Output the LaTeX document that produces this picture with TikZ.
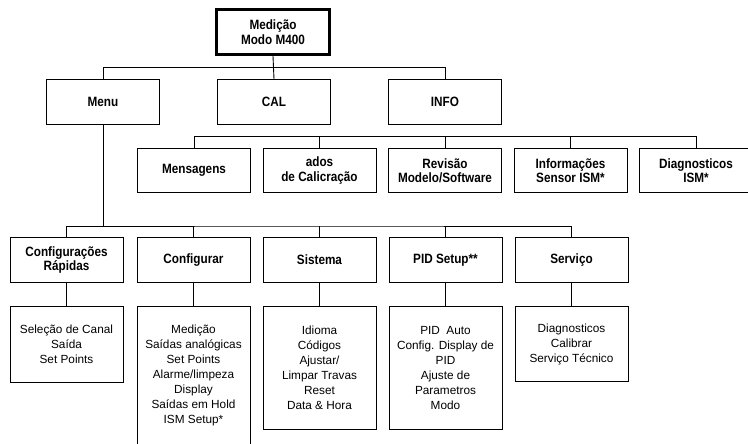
\documentclass[tikz,border=0pt]{standalone}
\usepackage{fontspec}
\setmainfont{Liberation Sans}
\newfontfamily\headfont[BoldFont={Liberation Sans Bold}, BoldFeatures={FakeStretch=0.87}, FakeStretch=0.87]{Liberation Sans}
\usetikzlibrary{positioning,calc}

\begin{document}
\begin{tikzpicture}[x=1pt, y=1pt,
    box/.style={rectangle, draw, line width=1pt, minimum width=113pt, minimum height=45pt, align=center, inner sep=2pt, font=\headfont\bfseries\fontsize{13.5}{14.5}\selectfont},
    list/.style={rectangle, draw, line width=1pt, minimum width=113pt, anchor=north, align=center, inner sep=2pt, font=\fontsize{11.8}{15}\selectfont},
    link/.style={line width=0.9pt}
]
\useasboundingbox (0,0) rectangle (748,-444);

\node[box, line width=2.6pt, minimum width=113.5pt, minimum height=45.5pt] (top) at (273,-32) {Medição\\Modo M400};

\node[box] (menu) at (103,-102) {Menu};
\node[box, right=57pt of menu] (cal) {CAL};
\node[box, right=57pt of cal] (info) {INFO};

\node[box, minimum height=44pt, below=23pt of info] (rev) {Revisão\\Modelo/Software};
\node[box, minimum height=44pt, left=11.5pt of rev] (caldata) {ados\\de Calicração};
\node[box, minimum height=44pt, left=11.5pt of caldata] (msg) {Mensagens};
\node[box, minimum height=44pt, right=11.5pt of rev] (sensor) {Informações\\Sensor ISM*};
\node[box, minimum height=44pt, right=11.5pt of sensor] (diag) {Diagnosticos\\ISM*};

\node[box, below=44pt of caldata] (sys) {Sistema};
\node[box, left=12pt of sys] (setup) {Configurar};
\node[box, left=13pt of setup] (quick) {Configurações\\Rápidas};
\node[box, right=12pt of sys] (pid) {PID Setup**};
\node[box, right=12pt of pid] (serv) {Serviço};

\node[list, minimum height=76pt, below=23pt of quick] (quicklist) {Seleção de Canal\\Saída\\Set Points};
\node[list, minimum height=138pt, below=23pt of setup] (setuplist) {Medição\\Saídas analógicas\\Set Points\\Alarme/limpeza\\Display\\Saídas em Hold\\ISM Setup*};
\node[list, minimum height=123pt, below=23pt of sys] (syslist) {Idioma\\Códigos\\Ajustar/\\Limpar Travas\\Reset\\Data \& Hora};
\node[list, minimum height=123pt, below=23pt of pid] (pidlist) {PID\ \ Auto\\Config. Display de\\PID\\Ajuste de\\Parametros\\Modo};
\node[list, minimum height=75pt, below=23pt of serv] (servlist) {Diagnosticos\\Calibrar\\Serviço Técnico};

\coordinate (bus1) at ($(top.south)+(0,-11.5)$);
\draw[link] (top.south) -- (cal.north);
\draw[link] (menu.north) |- (bus1) -| (info.north);

\coordinate (bus2) at ($(info.south)+(0,-11.5)$);
\draw[link] (msg.north) |- (bus2) -| (diag.north);
\foreach \n in {caldata,rev,sensor}
  \draw[link] (\n.north) -- (\n.north |- bus2);

\coordinate (bus3) at ($(sys.north)+(0,11)$);
\draw[link] (menu.south) -- (menu.south |- bus3);
\draw[link] (quick.north) |- (bus3) -| (serv.north);
\foreach \n in {setup,sys,pid}
  \draw[link] (\n.north) -- (\n.north |- bus3);

\foreach \n in {quick,setup,sys,pid,serv}
  \draw[link] (\n.south) -- (\n list.north);
\end{tikzpicture}
\end{document}
